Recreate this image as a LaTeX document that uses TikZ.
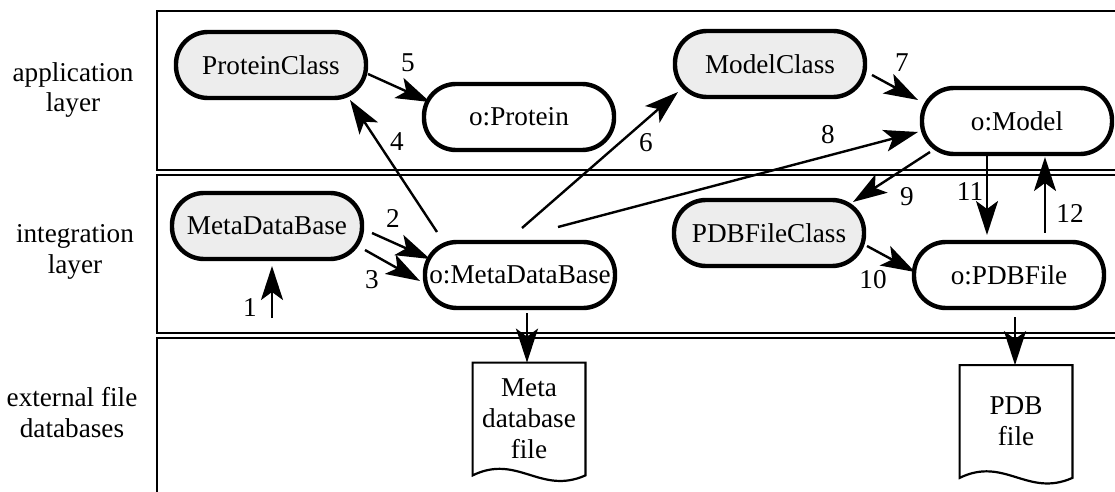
\documentclass[tikz,border=0pt]{standalone}
\usepackage{fontspec}
\setmainfont{Liberation Serif}
\usetikzlibrary{arrows.meta,calc}
\newcommand\myfnt{\fontsize{13.6pt}{15.5pt}\selectfont}
\begin{document}
\begin{tikzpicture}[x=0.5pt,y=-0.5pt,
  obj/.style={draw, line width=2.2pt, rectangle, rounded corners=16pt, minimum width=95pt, minimum height=33pt, inner sep=0pt, font=\myfnt},
  cls/.style={obj, fill=black!7},
  layer/.style={draw, line width=1.1pt},
  conn/.style={line width=1.2pt, -{Stealth[length=17pt,width=11pt,inset=4pt]}},
  num/.style={font=\myfnt, inner sep=0pt},
  lbl/.style={font=\myfnt, align=center, inner sep=0pt},
  docbox/.style={minimum width=56pt, minimum height=56pt, inner sep=0pt, align=center, font=\myfnt},
  docline/.style={line width=1.1pt}
]
\useasboundingbox (0,0) rectangle (1115,492);
\clip (0,0) rectangle (1115,492);
% layers
\draw[layer] (1130,11) -- (157,11) -- (157,170) -- (1130,170);
\draw[layer] (1130,175) -- (157,175) -- (157,333) -- (1130,333);
\draw[layer] (1130,338) -- (157,338) -- (157,500);
\node[lbl] (la) at (73,90) {application\\layer};
\node[lbl] (li) at (75,252) {integration\\layer};
\node[lbl] (le) at (72,413) {external file\\databases};
% nodes
\node[cls] (PC) at (271,65) {ProteinClass};
\node[obj] (OP) at (519,117) {o:Protein};
\node[cls] (MC) at (770,64) {ModelClass};
\node[obj] (OM) at (1017,121) {o:Model};
\node[cls] (MDB) at (267,226) {MetaDataBase};
\node[obj] (OMDB) at (520,275) {o:MetaDataBase};
\node[cls] (PDBC) at (769,233) {PDBFileClass};
\node[obj] (OPDB) at (1009,275) {o:PDBFile};
% documents
\node[docbox] (D1) at (529,419) {Meta\\database\\file};
\draw[docline] (D1.north west) -- (D1.north east) -- (D1.south east)
  .. controls ($(D1.south east)+(-45,20)$) and ($(D1.south west)+(45,-22)$) .. (D1.south west) -- cycle;
\node[docbox] (D2) at (1016,421.5) {PDB\\file};
\draw[docline] (D2.north west) -- (D2.north east) -- (D2.south east)
  .. controls ($(D2.south east)+(-45,20)$) and ($(D2.south west)+(45,-22)$) .. (D2.south west) -- cycle;
% connectors
\coordinate (s1) at (272,318);
\draw[conn] (s1) -- ($(MDB)+(5,40)$);
\draw[conn] ($(MDB)+(105,7)$) -- ($(OMDB)+(-90,-16)$);
\draw[conn] ($(MDB)+(98,24)$) -- ($(OMDB)+(-100,6)$);
\draw[conn] ($(OMDB)+(-83,-43)$) -- ($(PC)+(79,35)$);
\draw[conn] ($(PC)+(97,9)$) -- ($(OP)+(-89,-15)$);
\draw[conn] ($(OMDB)+(2,-47)$) -- ($(MC)+(-92,28)$);
\draw[conn] ($(MC)+(102,11)$) -- ($(OM)+(-99,-21)$);
\draw[conn] ($(OMDB)+(38,-48)$) -- ($(OM)+(-99,11)$);
\draw[conn] ($(OM)+(-87,31)$) -- ($(PDBC)+(84,-31)$);
\draw[conn] ($(PDBC)+(98,13)$) -- ($(OPDB)+(-94,-3)$);
\draw[conn] ($(OM)+(-30,34)$) -- ($(OPDB)+(-22,-40)$);
\draw[conn] ($(OPDB)+(36,-42)$) -- ($(OM)+(28,36)$);
\draw[conn] ($(OMDB)+(7,38)$) -- (D1.north -| {$(OMDB)+(7,38)$});
\draw[conn] ($(OPDB)+(6,42)$) -- (D2.north -| {$(OPDB)+(6,42)$});
% numbers
\node[num] (n1) at (250,308) {1};
\node[num] (n2) at (393,218) {2};
\node[num] (n3) at (372,280) {3};
\node[num] (n4) at (397,142) {4};
\node[num] (n5) at (408,63) {5};
\node[num] (n6) at (646,143) {6};
\node[num] (n7) at (902,63) {7};
\node[num] (n8) at (828,135) {8};
\node[num] (n9) at (907,197) {9};
\node[num] (n10) at (873,280) {10};
\node[num] (n11) at (970,192) {11};
\node[num] (n12) at (1070,213) {12};
\end{tikzpicture}
\end{document}
